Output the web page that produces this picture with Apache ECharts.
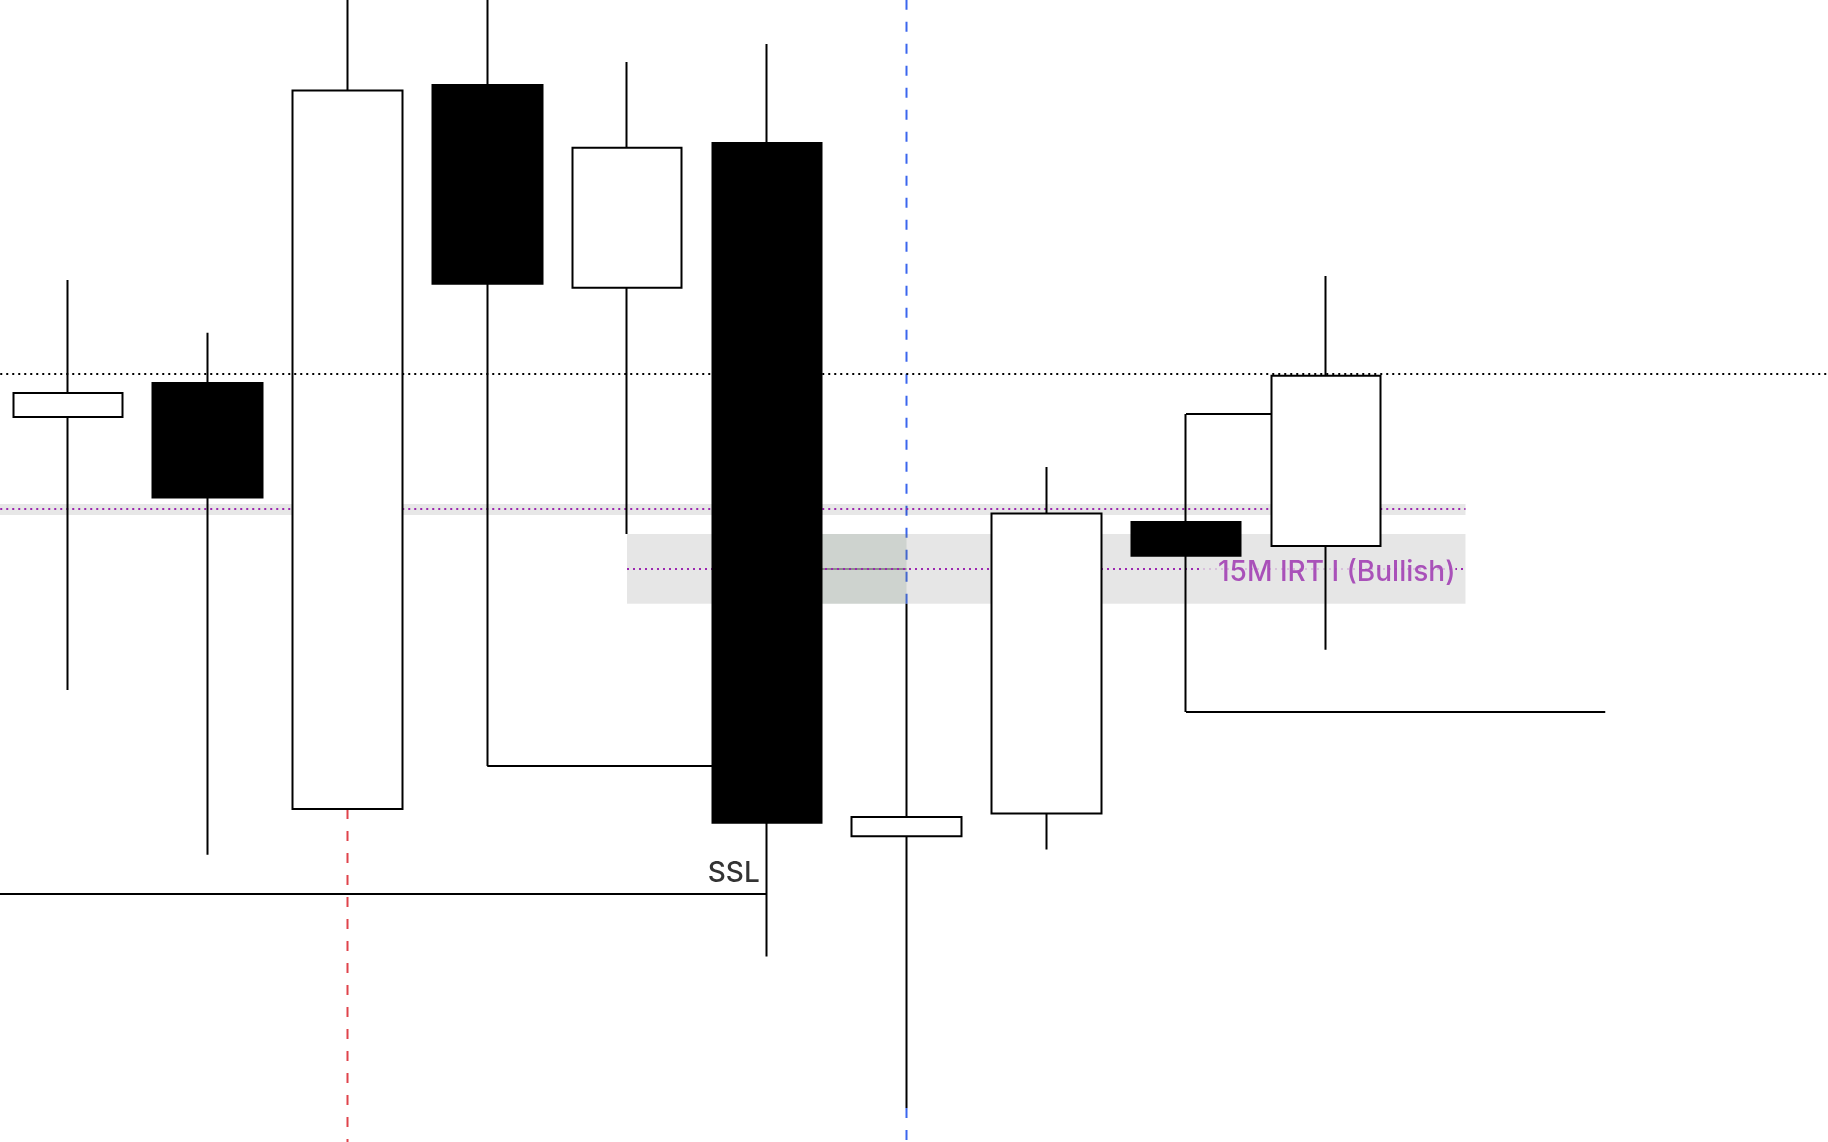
<!DOCTYPE html>
<html><head><meta charset="utf-8">
<script src="https://cdn.jsdelivr.net/npm/echarts@6/dist/echarts.min.js"></script>
<style>html,body{margin:0;padding:0;background:#fff}#c{width:1828px;height:1142px}</style>
</head><body><div id="c"></div>
<script>
// ---- data (price scale is arbitrary; no axis is shown) ----
const barIndex = [0, 1, 2, 3, 4, 5, 6, 7, 8, 9];
const opens  = [172.5, 175.9, 133.3, 205.69, 185.42, 199.9, 130.58, 132.84, 162.0, 159.6];
const closes = [174.9, 164.45, 205.14, 185.82, 199.42, 131.93, 132.49, 162.86, 158.62, 176.63];
const lows   = [145.2, 128.73, 133.3, 137.6, 160.8, 118.54, 103.39, 129.24, 143.0, 149.23];
const highs  = [186.2, 180.92, 218.0, 220.0, 208.01, 209.79, 153.82, 167.51, 172.8, 186.6];

const dottedLevel = 176.8;             // black dotted level, full width
const irtUpper = [-1, 10, 163.3];      // [fromBar, toBar, price]
const irtUpperBand = [163.8, 162.7];
const fvgBars = [4, 10];
const fvgRange = [160.8, 153.82];
const fvgMid = 157.3;
const innerGapBars = [5, 6];
const sslSegment = [-1, 5, 124.8];
const blackSegments = [[3, 5, 137.6], [8, 9, 172.8], [8, 11, 143.0]];
const redLineBar = 2;
const blueLineBar = 6;
const irtLabel = '15M IRT I (Bullish)';
const sslLabel = 'SSL';

const FONT = 'Inter, "Noto Sans", sans-serif';
const seg = (s) => [[s[0], s[2]], [s[1], s[2]]];
const lineSeries = (data, color, width, type, z) => ({
  type: 'line', data, symbol: 'none', silent: true, z,
  lineStyle: { color, width, type }, clip: true
});

const series = [];
// vertical dashed lines (the candle at that bar hides them where it is drawn)
series.push(lineSeries([[redLineBar, opens[redLineBar]], [redLineBar, 80]], '#e0434b', 2, [10, 12], 1));
series.push(lineSeries([[blueLineBar, highs[blueLineBar]], [blueLineBar, 230]], '#3b66ee', 2, [10, 12], 1));
series.push(lineSeries([[blueLineBar, lows[blueLineBar]], [blueLineBar, 80]], '#3b66ee', 2, [10, 12], 1));
// zones
series.push({
  type: 'line', data: [], silent: true,
  markArea: {
    silent: true, z: 2,
    data: [
      [{ coord: [irtUpper[0], irtUpperBand[0]], itemStyle: { color: 'rgba(0,0,0,0.094)' } }, { coord: [irtUpper[1], irtUpperBand[1]] }],
      [{ coord: [fvgBars[0], fvgRange[0]], itemStyle: { color: 'rgba(0,0,0,0.098)' } }, { coord: [fvgBars[1], fvgRange[1]] }],
      [{ coord: [innerGapBars[0], fvgRange[0]], itemStyle: { color: 'rgba(153,170,157,0.3)' } }, { coord: [innerGapBars[1], fvgRange[1]] }]
    ]
  }
});
// level lines
series.push(lineSeries([[innerGapBars[0], fvgMid], [innerGapBars[1], fvgMid]], '#8a8f8b', 2, 'solid', 3));
series.push(lineSeries(seg(irtUpper), '#9c27b0', 2, [2, 4], 3));
series.push(lineSeries([[fvgBars[0], fvgMid], [fvgBars[1], fvgMid]], '#9c27b0', 2, [2, 4], 3));
series.push(lineSeries(seg(sslSegment), '#000', 2, 'solid', 3));
blackSegments.forEach(s => series.push(lineSeries(seg(s), '#000', 2, 'solid', 3)));
// labels
series.push({
  type: 'scatter', z: 4, silent: true, symbolSize: 1, itemStyle: { color: 'rgba(0,0,0,0)' },
  data: [[fvgBars[1], fvgMid]],
  label: { show: true, formatter: irtLabel, position: 'inside', align: 'right', verticalAlign: 'middle',
    offset: [-10, 4], color: '#9a2cae', fontSize: 28, fontWeight: 500, fontFamily: FONT,
    backgroundColor: 'rgb(230,230,230)', padding: [4, 0, 4, 17] }
});
series.push({
  type: 'scatter', z: 4, silent: true, symbolSize: 1, itemStyle: { color: 'rgba(0,0,0,0)' },
  data: [[sslSegment[1], sslSegment[2]]],
  label: { show: true, formatter: sslLabel, position: 'inside', align: 'right', verticalAlign: 'middle',
    offset: [-7, -20], color: '#000', fontSize: 28, fontWeight: 500, fontFamily: FONT }
});
// candles
series.push({
  type: 'candlestick', z: 5, silent: true, barWidth: 110,
  encode: { x: 0, y: [1, 2, 3, 4] },
  data: barIndex.map((x, i) => [x, opens[i], closes[i], lows[i], highs[i]]),
  itemStyle: { color: '#fff', color0: '#000', borderColor: '#000', borderColor0: '#000', borderWidth: 2 }
});
// black dotted level on top
series.push(lineSeries([[-1, dottedLevel], [14, dottedLevel]], '#000', 2, [2, 4], 6));

const chart = echarts.init(document.getElementById('c'));
chart.setOption({
  animation: false,
  backgroundColor: '#fff',
  grid: { left: 0, right: 0, top: 0, bottom: 0 },
  xAxis: { type: 'value', min: -0.48658, max: 12.5939, show: false, splitLine: { show: false } },
  yAxis: { type: 'value', min: 100, max: 214.2, show: false, splitLine: { show: false } },
  series
});
</script></body></html>
